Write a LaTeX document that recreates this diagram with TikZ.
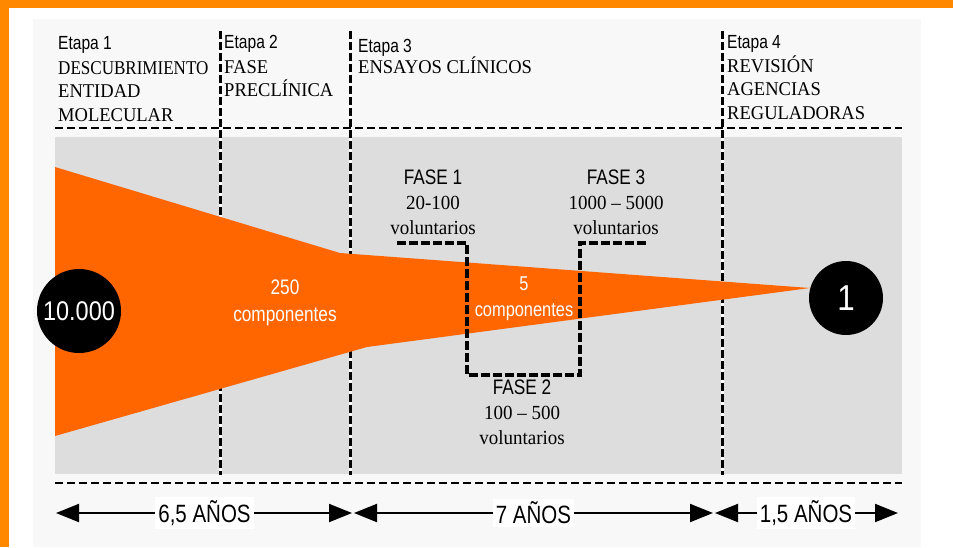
\documentclass[tikz,border=0pt]{standalone}
\usepackage{graphicx}
\usepackage{fontspec}
\setmainfont{Liberation Serif}
\newfontfamily\narrowsans[FakeStretch=0.82]{Liberation Sans}
\newfontfamily\serifcond[FakeStretch=0.95]{Liberation Serif}
\newfontfamily\hubsans[FakeStretch=0.87]{Liberation Sans}
\usetikzlibrary{arrows.meta,positioning}
\definecolor{frameorange}{HTML}{FF8800}
\definecolor{funnelorange}{HTML}{FF6600}
\definecolor{panelgray}{HTML}{F8F8F8}
\definecolor{bandgray}{HTML}{DDDDDD}
\newcommand{\fasehd}{\narrowsans\fontsize{21}{25}\selectfont}

\tikzset{
  etapa/.style={anchor=base west, inner sep=0pt, font=\narrowsans\fontsize{19}{23}\selectfont},
  stagetxt/.style={inner sep=0pt, align=left, font=\serifcond\fontsize{19.5}{23.5}\selectfont},
  fase/.style={anchor=north, inner sep=0pt, align=center, font=\serifcond\fontsize{20}{25}\selectfont},
  inwhite/.style={text=white, inner sep=0pt, align=center, font=\narrowsans\fontsize{21}{27}\selectfont},
  hub/.style={circle, fill=black, text=white, inner sep=0pt, font=\hubsans\fontsize{27}{30}\selectfont},
  divider/.style={line width=3pt, dash pattern=on 8pt off 3pt},
  stagerule/.style={line width=2.6pt, dash pattern=on 8pt off 4pt},
  phasestep/.style={line width=4pt, dash pattern=on 9pt off 3pt},
  span/.style={line width=2pt, {Triangle[length=23pt,width=18pt]}-{Triangle[length=23pt,width=18pt]}},
  yearlbl/.style={fill=white, inner sep=3pt, font=\narrowsans\fontsize{25}{28}\selectfont},
}

\begin{document}
\begin{tikzpicture}[x=1pt,y=-1pt]
\useasboundingbox (0,0) rectangle (953,547);
% frame and panels
\fill[white] (0,0) rectangle (953,547);
\fill[frameorange] (0,0) rectangle (953,8);
\fill[frameorange] (0,0) rectangle (9,547);
\fill[panelgray] (33,19) rectangle (921,547);
\fill[bandgray] (55,137) rectangle (902,474);
% stage dividers
\foreach \x in {220,350,722}{
  \draw[white,line width=3pt] (\x,31) -- (\x,475);
  \draw[divider] (\x,31) -- (\x,475);
}
\draw[stagerule] (55,128) -- (902,128);
\draw[stagerule] (55,483) -- (902,483);
% funnel
\fill[funnelorange] (55,167) -- (340,253) -- (810,288) -- (367,347) -- (55,436) -- cycle;
% phase steps
\draw[phasestep] (397,243) -- (467,243) -- (467,375) -- (580,375) -- (580,243) -- (648,243);

% counts
\node[hub, minimum size=84pt] (n10k) at (79,311) {10.000};
\node[hub, minimum size=74pt, font=\hubsans\fontsize{36}{40}\selectfont] (n1) at (846,298) {1};
\node[inwhite] (c250) at (285,303) {250\\componentes};
\node[inwhite, font=\narrowsans\fontsize{20}{26}\selectfont] (c5) at (524,299) {5\\componentes};

% stages
\node[etapa] (e1) at (58,49) {Etapa 1};
\node[stagetxt, below right=12pt and 0pt of e1.base west] (d1) {\scalebox{0.92}[1]{DESCUBRIMIENTO}\\ENTIDAD\\MOLECULAR};
\node[etapa] (e2) at (224,48) {Etapa 2};
\node[stagetxt, below right=12pt and 0pt of e2.base west] (d2) {FASE\\PRECLÍNICA};
\node[etapa] (e3) at (358,52) {Etapa 3};
\node[stagetxt, below right=4.5pt and 0pt of e3.base west] (d3) {ENSAYOS CLÍNICOS};
\node[etapa] (e4) at (727,48) {Etapa 4};
\node[stagetxt, below right=7.5pt and 0pt of e4.base west] (d4) {REVISIÓN\\AGENCIAS\\REGULADORAS};

% phases
\node[fase] (f1) at (433,170) {{\fasehd FASE 1}\\20-100\\voluntarios};
\node[fase] (f3) at (616,170) {{\fasehd FASE 3}\\1000 – 5000\\voluntarios};
\node[fase] (f2) at (522,380) {{\fasehd FASE 2}\\100 – 500\\voluntarios};

% durations
\coordinate (t0) at (56,513);
\coordinate (t1) at (353,513);
\coordinate (t2) at (714,513);
\coordinate (t3) at (898,513);
\draw[span, shorten >=1pt] (t0) -- node[yearlbl] (y1) {6,5 AÑOS} (t1);
\draw[span, shorten <=1pt, shorten >=1pt] (t1) -- node[yearlbl] (y2) {7 AÑOS} (t2);
\draw[span, shorten <=1pt] (t2) -- node[yearlbl] (y3) {1,5 AÑOS} (t3);
\end{tikzpicture}
\end{document}
